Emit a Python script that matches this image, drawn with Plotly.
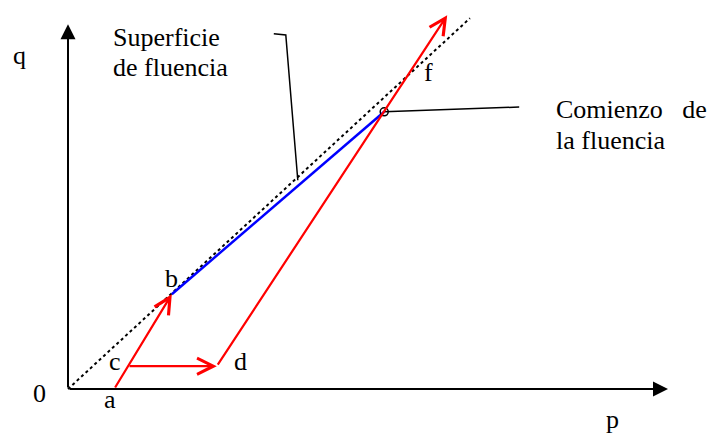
import plotly.graph_objects as go

# Stress path in the p-q plane (p: mean stress, q: deviatoric stress)
pt_a = (0.77, 0.0)
pt_b = (1.73, 1.58)
pt_c = (1.00, 0.38)
pt_d = (2.48, 0.38)
pt_yield = (5.27, 4.62)      # comienzo de la fluencia
pt_f = (6.32, 6.23)          # end of the last loading branch

# Yield surface (dotted straight line through the origin)
surface_p = [0.0, 6.70]
surface_q = [0.0, 6.18]

# Hardening branch b -> yield onset
hardening_p = [pt_b[0], pt_yield[0]]
hardening_q = [pt_b[1], pt_yield[1]]

# Axis extents
p_axis_end = 10.0
q_axis_end = 6.08

# Leader-line anchor points for the callouts
surface_leader_p = [3.43, 3.63, 3.83]
surface_leader_q = [5.92, 5.90, 3.48]
onset_leader_p = [pt_yield[0], 7.52]
onset_leader_q = [pt_yield[1], 4.70]

SERIF = "Liberation Serif, Times New Roman, serif"
RED = "#ff0000"
BLUE = "#0000ff"

fig = go.Figure()

# dotted yield surface
fig.add_trace(go.Scatter(x=surface_p, y=surface_q, mode="lines",
                         line=dict(color="black", width=2, dash="dot"),
                         hoverinfo="skip"))
# blue hardening segment
fig.add_trace(go.Scatter(x=hardening_p, y=hardening_q, mode="lines",
                         line=dict(color=BLUE, width=2.5), hoverinfo="skip"))
# callout leaders
fig.add_trace(go.Scatter(x=surface_leader_p, y=surface_leader_q, mode="lines",
                         line=dict(color="black", width=1.5), hoverinfo="skip"))
fig.add_trace(go.Scatter(x=onset_leader_p, y=onset_leader_q, mode="lines",
                         line=dict(color="black", width=1.5), hoverinfo="skip"))

annotations = []


def arrow(start, end, color, width, head, size):
    annotations.append(dict(
        x=end[0], y=end[1], ax=start[0], ay=start[1],
        xref="x", yref="y", axref="x", ayref="y",
        text="", showarrow=True, arrowhead=head, arrowsize=size,
        arrowwidth=width, arrowcolor=color, standoff=0, startstandoff=0))


# coordinate axes with filled heads
arrow((0, 0), (0, q_axis_end), "black", 2, 2, 1.5)
arrow((0, 0), (p_axis_end, 0), "black", 2, 2, 1.5)

# red stress path with open heads
arrow(pt_a, pt_b, RED, 2.2, 5, 1.45)
arrow(pt_c, pt_d, RED, 2.2, 5, 1.45)
arrow(pt_d, pt_f, RED, 2.2, 5, 1.45)

# yield onset marker
fig.add_trace(go.Scatter(x=[pt_yield[0]], y=[pt_yield[1]], mode="markers",
                         marker=dict(size=8, color="rgba(0,0,0,0)",
                                     line=dict(color="black", width=1.5)),
                         hoverinfo="skip"))


def label(text, at, dx, dy, xanchor="left"):
    annotations.append(dict(
        x=at[0], y=at[1], xref="x", yref="y", text=text, showarrow=False,
        xanchor=xanchor, yanchor="middle", xshift=dx, yshift=dy,
        font=dict(family=SERIF, size=26, color="black")))


label("a", pt_a, -12, -10)
label("b", pt_b, -9, 16)
label("c", pt_c, -5, 5, xanchor="right")
label("d", pt_d, 15, 5)
label("f", pt_f, -25, -57)
label("0", (0, 0), -20, -4, xanchor="right")
label("p", (p_axis_end, 0), -64, -30)
label("q", (0, q_axis_end), -57, -31)

surface_start = (surface_leader_p[0], surface_leader_q[0])
label("Superficie", surface_start, -163, -4)
label("de fluencia", surface_start, -163, -34)

onset_end = (onset_leader_p[1], onset_leader_q[1])
label("Comienzo\u00a0\u00a0\u00a0de", onset_end, 35, -2)
label("la fluencia", onset_end, 35, -33)

fig.update_layout(
    width=712, height=436,
    margin=dict(l=0, r=0, t=0, b=0),
    paper_bgcolor="white", plot_bgcolor="white",
    showlegend=False,
    annotations=annotations,
    xaxis=dict(range=[-68 / 60, 644 / 60], visible=False, fixedrange=True),
    yaxis=dict(range=[-47 / 60, 389 / 60], visible=False, fixedrange=True),
)

fig.write_html("out.html", config={"displayModeBar": False})
